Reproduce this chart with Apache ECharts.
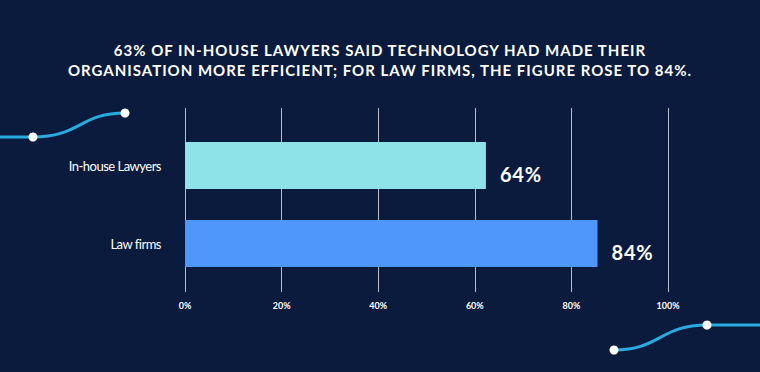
<!DOCTYPE html>
<html>
<head>
<meta charset="utf-8">
<style>
  html, body { margin: 0; padding: 0; background: #0b1b3d; }
  #chart { width: 760px; height: 372px; }
</style>
<script src="https://cdn.jsdelivr.net/npm/echarts@6/dist/echarts.min.js"></script>
</head>
<body>
<div id="chart"></div>
<script>
const titleLines = [
  '63% OF IN-HOUSE LAWYERS SAID TECHNOLOGY HAD MADE THEIR',
  'ORGANISATION MORE EFFICIENT; FOR LAW FIRMS, THE FIGURE ROSE TO 84%.'
];
const categories = ['In-house Lawyers', 'Law firms'];
const values = [62.3, 85.4];
const valueLabels = ['64%', '84%'];
const barColors = ['#8de3e8', '#4f97fb'];
const tickValues = [0, 20, 40, 60, 80, 100];

const chart = echarts.init(document.getElementById('chart'), null, { renderer: 'svg' });
const lineColor = '#29abe2';
const option = {
  backgroundColor: '#0b1b3d',
  animation: false,
  grid: [
    { left: 185, right: 92, top: 108, bottom: 80 },
    { left: 185, right: 92, top: 126.5, bottom: 89.5 }
  ],
  xAxis: [
    {
      gridIndex: 0, type: 'value', min: tickValues[0], max: tickValues[tickValues.length - 1],
      interval: tickValues[1] - tickValues[0],
      axisLine: { show: false }, axisTick: { show: false },
      splitLine: { show: true, lineStyle: { color: '#b8bccb', width: 1 } },
      axisLabel: {
        color: '#ffffff', fontFamily: 'Lato', fontWeight: 'bold', fontSize: 9, margin: 9,
        formatter: v => v + '%'
      }
    },
    {
      gridIndex: 1, type: 'value', min: 0, max: 100, show: false
    }
  ],
  yAxis: [
    { gridIndex: 0, type: 'value', show: false },
    {
      gridIndex: 1, type: 'category', data: categories, inverse: true,
      axisLine: { show: false }, axisTick: { show: false },
      axisLabel: {
        color: '#ffffff', fontFamily: 'Lato', fontSize: 13, margin: 24
      }
    }
  ],
  series: [
    {
      type: 'bar', xAxisIndex: 1, yAxisIndex: 1,
      data: values.map((v, i) => ({ value: v, itemStyle: { color: barColors[i] } })),
      barWidth: 47,
      label: {
        show: true, position: 'right', distance: 14, offset: [0, 8],
        color: '#ffffff', fontFamily: 'Lato', fontWeight: 'bold', fontSize: 20,
        formatter: p => valueLabels[p.dataIndex]
      }
    }
  ],
  graphic: [
    { type: 'text', x: 380, y: 50, style: { text: titleLines[0], fill: '#ffffff', font: 'bold 15px Lato', textAlign: 'center', textVerticalAlign: 'middle' } },
    { type: 'text', x: 380, y: 70, style: { text: titleLines[1], fill: '#ffffff', font: 'bold 15px Lato', textAlign: 'center', textVerticalAlign: 'middle' } },
    { type: 'line', shape: { x1: 0, y1: 137, x2: 33, y2: 137 }, style: { stroke: lineColor, lineWidth: 3 } },
    { type: 'bezierCurve', shape: { x1: 33, y1: 137, cpx1: 80, cpy1: 137, cpx2: 80, cpy2: 113, x2: 125, y2: 113 }, style: { stroke: lineColor, lineWidth: 3, fill: null } },
    { type: 'circle', shape: { cx: 33, cy: 137, r: 4.5 }, style: { fill: '#ffffff' } },
    { type: 'circle', shape: { cx: 125, cy: 113, r: 4.5 }, style: { fill: '#ffffff' } },
    { type: 'bezierCurve', shape: { x1: 614, y1: 350, cpx1: 660, cpy1: 350, cpx2: 660, cpy2: 325, x2: 707, y2: 325 }, style: { stroke: lineColor, lineWidth: 3, fill: null } },
    { type: 'line', shape: { x1: 707, y1: 325, x2: 760, y2: 325 }, style: { stroke: lineColor, lineWidth: 3 } },
    { type: 'circle', shape: { cx: 614, cy: 350, r: 4.5 }, style: { fill: '#ffffff' } },
    { type: 'circle', shape: { cx: 707, cy: 325, r: 4.5 }, style: { fill: '#ffffff' } }
  ]
};
chart.setOption(option);

function applySpacing() {
  chart.getDom().querySelectorAll('text').forEach(t => {
    const s = t.textContent;
    if (titleLines.indexOf(s) >= 0) t.setAttribute('letter-spacing', '1');
    else if (categories.indexOf(s) >= 0) t.setAttribute('letter-spacing', '-0.5');
    else if (valueLabels.indexOf(s) >= 0) t.setAttribute('letter-spacing', '0.8');
  });
}
applySpacing();
chart.on('finished', applySpacing);
</script>
</body>
</html>
